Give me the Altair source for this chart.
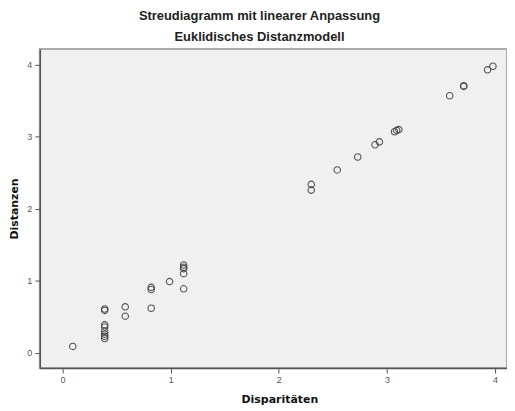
import altair as alt
import pandas as pd

disparitaeten = [0.095, 0.39, 0.39, 0.39, 0.39, 0.39, 0.39, 0.39, 0.39,
                 0.58, 0.58, 0.82, 0.82, 0.82, 0.99, 1.12, 1.12, 1.12, 1.12, 1.12,
                 2.30, 2.30, 2.54, 2.73, 2.89, 2.93, 3.07, 3.09, 3.11,
                 3.58, 3.71, 3.71, 3.93, 3.98]
distanzen = [0.09, 0.61, 0.59, 0.39, 0.36, 0.30, 0.26, 0.23, 0.20,
             0.64, 0.51, 0.91, 0.88, 0.62, 0.99, 1.22, 1.19, 1.17, 1.10, 0.89,
             2.34, 2.26, 2.54, 2.72, 2.89, 2.93, 3.07, 3.09, 3.10,
             3.57, 3.71, 3.70, 3.93, 3.98]
ticks = [0, 1, 2, 3, 4]

df = pd.DataFrame({"Disparitäten": disparitaeten, "Distanzen": distanzen})

chart = alt.Chart(df).mark_point(
    shape="circle", filled=False, size=42, color="#404040", strokeWidth=1.1, opacity=0.9
).encode(
    x=alt.X("Disparitäten:Q",
            scale=alt.Scale(domain=[-0.21, 4.11], nice=False, zero=False),
            axis=alt.Axis(values=ticks, title="Disparitäten", titleX=241)),
    y=alt.Y("Distanzen:Q",
            scale=alt.Scale(domain=[-0.21, 4.22], nice=False, zero=False),
            axis=alt.Axis(values=ticks, title="Distanzen")),
).properties(
    width=470, height=321,
    title=alt.TitleParams(
        text="Streudiagramm mit linearer Anpassung",
        subtitle="Euklidisches Distanzmodell",
        font="Liberation Sans", fontSize=13, fontWeight="bold", color="#222222",
        subtitleFont="Liberation Sans", subtitleFontSize=13, subtitleFontWeight="bold",
        subtitleColor="#222222", subtitlePadding=8,
        anchor="middle", dx=-14, offset=5,
    ),
    autosize=alt.AutoSizeParams(type="none"),
    padding={"left": 32, "top": 40, "right": 0, "bottom": 36},
).configure_view(
    fill="#f0f0f0", stroke="#aaaaaa", strokeWidth=2
).configure_axis(
    grid=False,
    domainColor="#555555", domainWidth=1.5,
    tickColor="#555555", tickSize=5, tickWidth=1,
    labelFont="Liberation Sans", labelFontSize=9, labelColor="#555555", labelPadding=3,
    titleFont="DejaVu Sans", titleFontSize=11, titleFontWeight="bold", titleColor="#111111",
).configure_axisX(titlePadding=9).configure_axisY(titlePadding=7)

chart.save("out.html", embed_options={"renderer": "svg", "actions": False})
